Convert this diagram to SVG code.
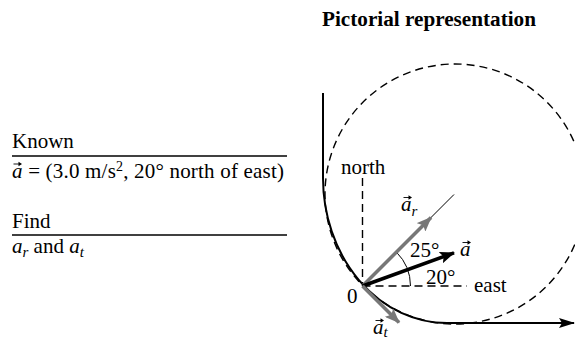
<svg xmlns="http://www.w3.org/2000/svg" xmlns:xlink="http://www.w3.org/1999/xlink" width="575" height="340" viewBox="0 0 575 340">
<style>
text{font-family:"Liberation Serif","Times New Roman",serif;font-size:21px;fill:#000}
.it{font-style:italic}
.sub{font-size:15px;font-style:italic}
.title{font-weight:bold;font-size:20px}
.rule{stroke:#000;stroke-width:1.6;fill:none}
.dash{stroke:#000;stroke-width:1.4;fill:none;stroke-dasharray:8 5}
.thin{stroke:#000;stroke-width:1;fill:none}
.gray{stroke:#777;stroke-width:3.5;fill:none}
.blk{stroke:#000;stroke-width:3.5;fill:none}
</style>
<defs>
<marker id="hg" markerUnits="userSpaceOnUse" markerWidth="16" markerHeight="12" refX="14" refY="6" orient="auto"><path d="M0,0 L15,6 L0,12 L3,6 Z" fill="#777"/></marker>
<marker id="hb" markerUnits="userSpaceOnUse" markerWidth="16" markerHeight="12" refX="14" refY="6" orient="auto"><path d="M0,0 L15,6 L0,12 L3,6 Z" fill="#000"/></marker>
<marker id="hp" markerUnits="userSpaceOnUse" markerWidth="16" markerHeight="12" refX="15" refY="5" orient="auto"><path d="M0,0 L16,5 L0,10 L3,5 Z" fill="#000"/></marker>
<g id="vec"><path d="M0,0 H6" stroke="#000" stroke-width="0.9"/><path d="M5,-2.2 L8.5,0 L5,2.2 Z" fill="#000"/></g>
</defs>

<g id="title"><text class="title" x="322" y="26" textLength="214" lengthAdjust="spacingAndGlyphs">Pictorial representation</text></g>

<g id="known">
<text x="12" y="148">Known</text>
<line class="rule" x1="12" y1="156" x2="287" y2="156"/>
<text x="12" y="178" textLength="272" lengthAdjust="spacing"><tspan class="it">a</tspan> = (3.0 m/s<tspan font-size="14" dy="-7">2</tspan><tspan dy="7">, 20° north of east)</tspan></text>
<use xlink:href="#vec" x="13.5" y="164"/>
</g>

<g id="find">
<text x="12" y="228">Find</text>
<line class="rule" x1="12" y1="235" x2="287" y2="235"/>
<text x="12" y="253"><tspan class="it">a</tspan><tspan class="sub" dy="4">r</tspan><tspan dy="-4"> and </tspan><tspan class="it">a</tspan><tspan class="sub" dy="4">t</tspan></text>
</g>

<g id="scene">
<circle class="dash" cx="455" cy="194" r="130" stroke-dasharray="9 6"/>
<path d="M323,93 V178 A124,145 0 0 0 447,323 H574" stroke="#000" stroke-width="2" fill="none" marker-end="url(#hp)"/>
<line class="dash" x1="362.5" y1="178" x2="362.5" y2="286"/>
<line class="dash" x1="362.5" y1="286" x2="467" y2="286"/>
<line class="thin" x1="362.5" y1="286" x2="454" y2="194.5"/>
<path class="thin" d="M410.5,286 A48,48 0 0 0 396.4,252.1"/>
</g>

<g id="connectors">
<line class="gray" x1="362.5" y1="286" x2="431" y2="217.5" marker-end="url(#hg)"/>
<line class="blk" x1="362.5" y1="286" x2="454" y2="252.8" marker-end="url(#hb)"/>
<line class="gray" x1="362.5" y1="286" x2="399" y2="322.5" marker-end="url(#hg)"/>
</g>

<g id="labels">
<text x="341" y="174">north</text>
<text x="474" y="292">east</text>
<text x="347" y="303">0</text>
<text x="410" y="257">25°</text>
<text x="426" y="284">20°</text>
<text x="401" y="211"><tspan class="it">a</tspan><tspan class="sub" dy="5">r</tspan></text>
<use xlink:href="#vec" x="403.5" y="197.5"/>
<text class="it" x="460" y="256">a</text>
<use xlink:href="#vec" x="462.5" y="242.5"/>
<text x="373" y="334"><tspan class="it">a</tspan><tspan class="sub" dy="3">t</tspan></text>
<use xlink:href="#vec" x="375.5" y="320.5"/>
</g>
</svg>
